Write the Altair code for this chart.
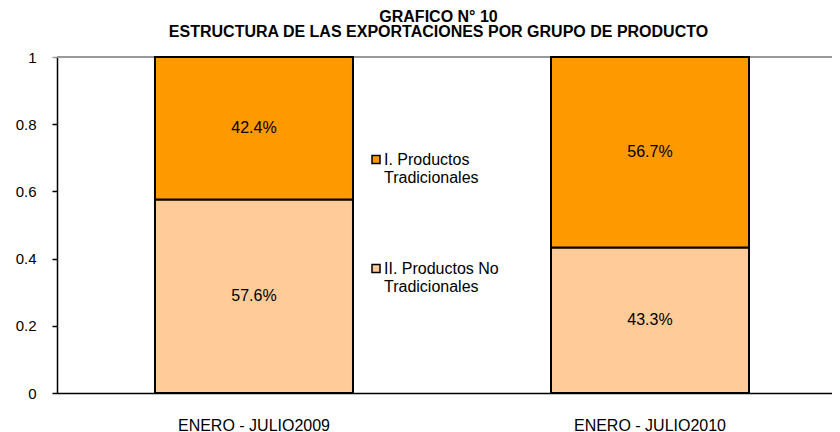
import altair as alt
import pandas as pd

periodos = ["ENERO - JULIO2009", "ENERO - JULIO2010"]
grupos = ["I. Productos Tradicionales", "II. Productos No Tradicionales"]
tradicionales = [0.424, 0.567]
no_tradicionales = [0.576, 0.433]
marcas_y = [0, 0.2, 0.4, 0.6, 0.8, 1]
colores = ["#FF9900", "#FFCC99"]
titulo = ["GRAFICO N° 10", "ESTRUCTURA DE LAS EXPORTACIONES POR GRUPO DE PRODUCTO"]

rows = []
for i, p in enumerate(periodos):
    rows.append({"periodo": p, "grupo": grupos[1], "valor": no_tradicionales[i], "orden": 0})
    rows.append({"periodo": p, "grupo": grupos[0], "valor": tradicionales[i], "orden": 1})
df = pd.DataFrame(rows)

FONT = "Liberation Sans"

base = alt.Chart(df).transform_stack(
    stack="valor", groupby=["periodo"], sort=[alt.SortField("orden")], as_=["y0", "y1"]
).transform_calculate(mid="(datum.y0 + datum.y1) / 2")

xscale = alt.Scale(paddingInner=0.5, paddingOuter=0.2285, align=0.5414)

x_main = alt.X(
    "periodo:N", sort=periodos, title=None, scale=xscale,
    axis=alt.Axis(labelAngle=0, ticks=False, labelPadding=24, labelFontSize=16,
                  labelColor="black", labelFont=FONT, domainColor="black", domainWidth=1.5),
)

y_main = alt.Y(
    "y0:Q", title=None, scale=alt.Scale(domain=[0, 1]),
    axis=alt.Axis(values=marcas_y, format="~g", grid=False, tickSize=5, labelPadding=16,
                  labelFontSize=15, labelFont=FONT, labelColor="black",
                  domainColor="black", domainWidth=1.5, tickWidth=1.5,
                  tickColor=alt.condition("datum.value == 1", alt.value("#999999"), alt.value("black"))),
)

rule = alt.Chart(pd.DataFrame({"tope": [1]})).mark_rule(color="#999999", strokeWidth=2).encode(
    y=alt.Y("tope:Q")
)

# square symbol raised so that it sits level with the first line of its label
simbolo = "M-1,-2.35H1V-0.35H-1Z"

bars = base.mark_bar(stroke="black", strokeWidth=2).encode(
    x=x_main,
    y=y_main,
    y2="y1:Q",
    color=alt.Color(
        "grupo:N",
        scale=alt.Scale(domain=grupos, range=colores),
        legend=alt.Legend(
            title=None, orient="none", legendX=311, legendY=100, padding=0,
            symbolType=simbolo, symbolSize=64, symbolStrokeColor="black", symbolStrokeWidth=1.5,
            labelFont=FONT, labelFontSize=16, labelColor="black", labelOffset=0,
            labelBaseline="alphabetic",
            labelExpr="[replace(datum.label, ' Tradicionales', ''), 'Tradicionales']",
            rowPadding=75,
        ),
    ),
)

text = base.mark_text(font=FONT, fontSize=16, color="black").encode(
    x=alt.X("periodo:N", sort=periodos, scale=xscale),
    y=alt.Y("mid:Q"),
    text=alt.Text("valor:Q", format=".1%"),
)

chart = alt.layer(rule, bars, text).properties(
    width=775, height=336,
    autosize="none",
    padding={"left": 49, "top": 49, "right": 0, "bottom": 39},
    title=alt.Title(titulo, font=FONT, fontSize=16, fontWeight="bold", color="black",
                    offset=10, dx=-6, lineHeight=15.5, anchor="middle"),
).configure_view(stroke=None).configure(background="white")

chart.save("out.html", embed_options={"renderer": "svg", "actions": False})
